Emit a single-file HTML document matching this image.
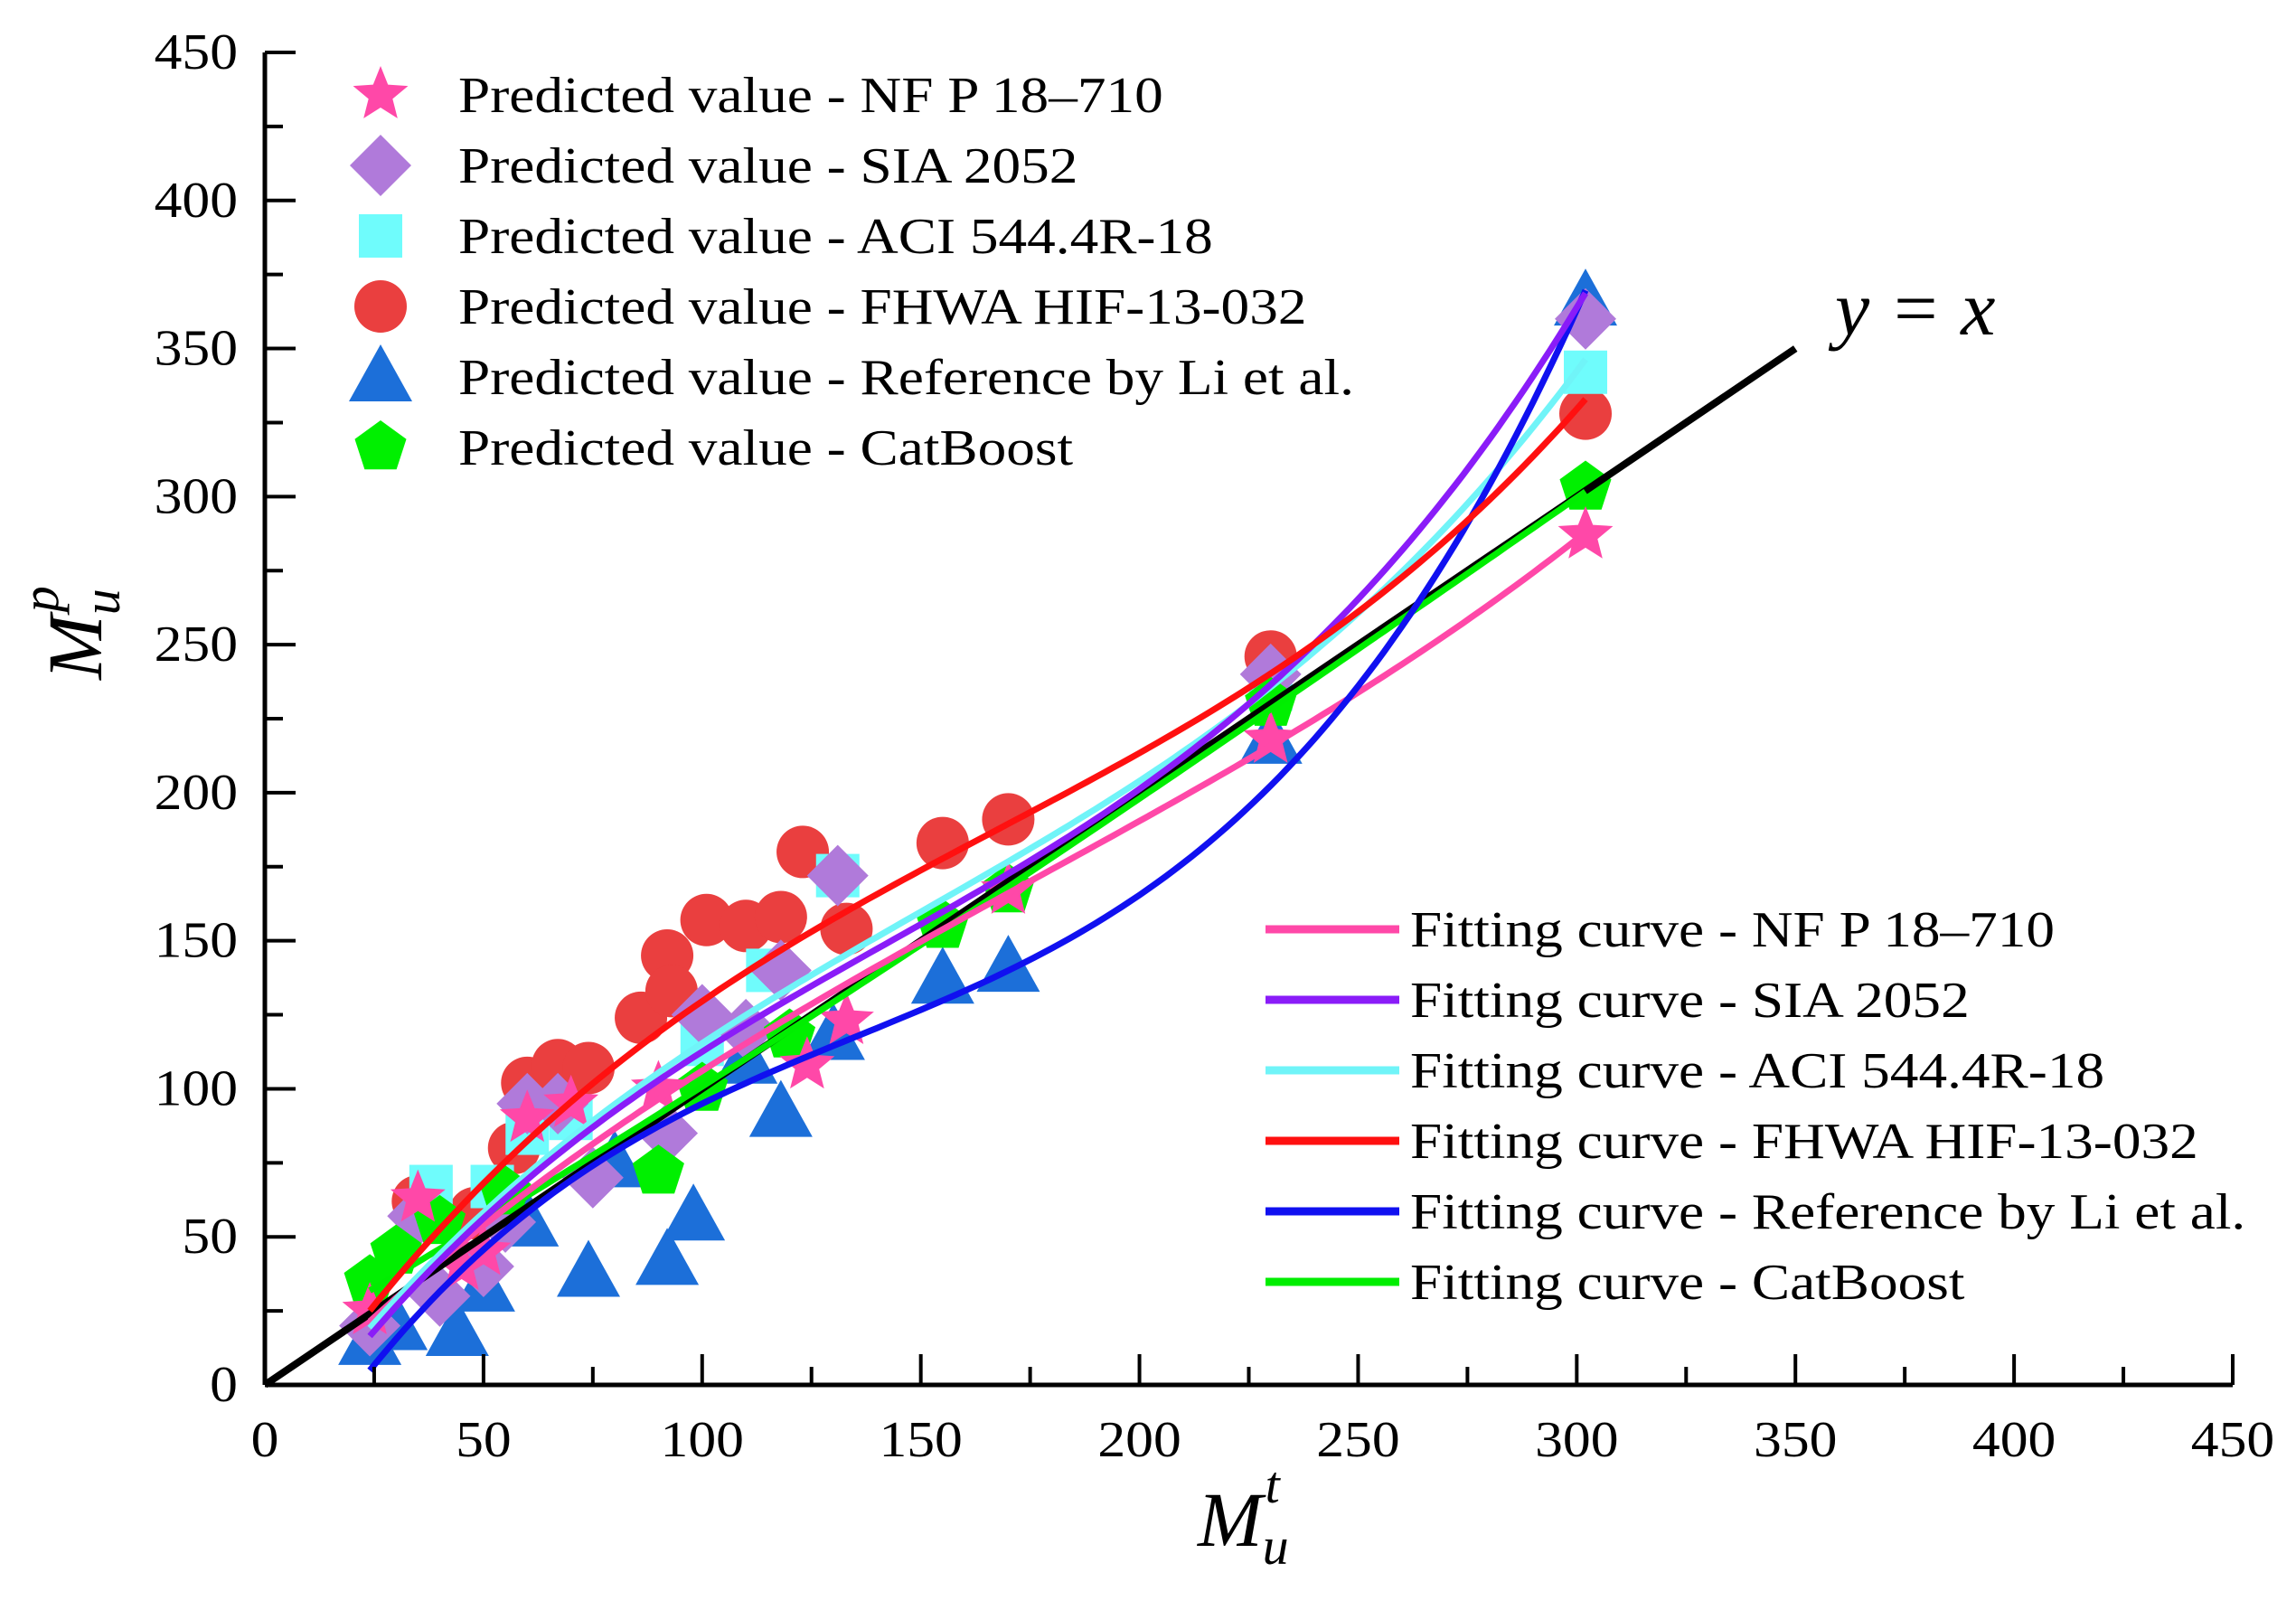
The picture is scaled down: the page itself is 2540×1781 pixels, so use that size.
<!DOCTYPE html>
<html><head><meta charset="utf-8"><style>
body{margin:0;background:#fff}
svg text{font-family:"Liberation Serif",serif}
</style></head><body>
<svg id="chart" width="2540" height="1776" viewBox="0 0 2540 1776" xmlns="http://www.w3.org/2000/svg">
<rect width="2540" height="1776" fill="#fff"/>
<g id="marks"></g><g id="axes"></g><g id="legend"></g>
<text id="idlab" x="2030" y="370" font-size="86" font-style="italic" font-family="Liberation Serif,serif">y = x</text>
<text x="1325" y="1710" font-size="86" font-style="italic" font-family="Liberation Serif,serif">M<tspan font-size="58" dy="20">u</tspan><tspan font-size="58" dx="-26" dy="-68">t</tspan></text>
<g transform="translate(112,700) rotate(-90)"><text x="0" y="0" font-size="86" font-style="italic" font-family="Liberation Serif,serif" text-anchor="middle">M<tspan font-size="58" dy="20">u</tspan><tspan font-size="58" dx="-26" dy="-68">p</tspan></text></g>
</svg>
<script>
const xTicks=[0,50,100,150,200,250,300,350,400,450];
const yTicks=[0,50,100,150,200,250,300,350,400,450];
const nfX=[24,35,45,50,60,70,90,124,133,170,230,302];
const nfY=[25,63,40,45,90,95,100,108,123,167,218,287];
const siaX=[24,35,40,50,55,60,67,75,92,100,110,118,131,230,302];
const siaY=[20,57,30,40,55,95,95,70,85,125,120,140,172,240,360];
const aciX=[38,52,60,70,100,115,131,230,302];
const aciY=[67,67,85,90,115,140,172,235,342];
const fhX=[35,48,57,60,67,74,86,92,93,101,110,118,123,133,155,170,230,302];
const fhY=[62,58,80,102,108,107,124,145,133,157,155,158,180,154,183,191,246,328];
const liX=[24,30,44,50,60,74,80,92,98,110,118,130,155,170,230,302];
const liY=[15,20,18,33,55,38,75,42,57,110,92,118,137,141,218,366];
const cbX=[24,30,40,55,90,100,120,155,170,230,302];
const cbY=[35,45,55,65,72,100,118,155,167,230,303];
const fitX=[25,50,75,100,150,200,230,260,300];
const fitNF=[22,55,82,105,150,190,215,245,285];
const fitSIA=[18,55,88,115,155,195,240,285,362];
const fitACI=[20,58,90,118,158,200,236,280,340];
const fitFH=[25,70,103,130,172,210,243,275,328];
const fitLi=[7,45,73,97,128,160,205,258,362];
const fitCB=[33,55,77,100,150,198,228,258,300];

const X0=293,X1=2470,Y0=1532,Y1=58;
const sx=v=>X0+(X1-X0)*v/450, sy=v=>Y0-(Y0-Y1)*v/450;
const NS='http://www.w3.org/2000/svg';
const marks=document.getElementById('marks'),axes=document.getElementById('axes'),leg=document.getElementById('legend');
function mk(tag,attrs,parent){const e=document.createElementNS(NS,tag);for(const k in attrs)e.setAttribute(k,attrs[k]);parent.appendChild(e);return e;}
function widen(t,f){const w=t.getComputedTextLength();t.setAttribute('textLength',w*f);t.setAttribute('lengthAdjust','spacingAndGlyphs');}
function shape(type,cx,cy,col,parent){
  let e;
  if(type==='circle'){e=mk('circle',{cx,cy,r:29,fill:col},parent);}
  else if(type==='square'){e=mk('rect',{x:cx-24,y:cy-24,width:48,height:48,fill:col},parent);}
  else{
    let pts=[];
    if(type==='star'){for(let i=0;i<10;i++){const r=i%2?14:32,a=-Math.PI/2+i*Math.PI/5;pts.push([cx+r*Math.cos(a),cy+r*Math.sin(a)]);}}
    if(type==='diamond'){pts=[[cx,cy-34],[cx+34,cy],[cx,cy+34],[cx-34,cy]];}
    if(type==='tri'){pts=[[cx,cy-36],[cx+35,cy+27],[cx-35,cy+27]];}
    if(type==='pent'){for(let i=0;i<5;i++){const a=-Math.PI/2+i*2*Math.PI/5;pts.push([cx+30*Math.cos(a),cy+30*Math.sin(a)]);}}
    e=mk('polygon',{points:pts.map(p=>p.join(',')).join(' '),fill:col},parent);
  }
  return e;
}
const series=[
 {t:'circle',c:'#ea3f3f',x:fhX,y:fhY,n:'fhwa'},
 {t:'tri',c:'#1c6fd9',x:liX,y:liY,n:'li'},
 {t:'square',c:'#6ffcfc',x:aciX,y:aciY,n:'aci'},
 {t:'diamond',c:'#b07ada',x:siaX,y:siaY,n:'sia'},
 {t:'pent',c:'#00f000',x:cbX,y:cbY,n:'catboost'},
 {t:'star',c:'#ff48a8',x:nfX,y:nfY,n:'nfp'}];
series.forEach(s=>{s.x.forEach((xv,i)=>{
  const e=shape(s.t,sx(xv),sy(s.y[i]),s.c,marks);
  
  
});});
const idl=mk('line',{x1:sx(0),y1:sy(0),x2:sx(350),y2:sy(350),stroke:'#000','stroke-width':8},marks);


function cubicFit(xs,ys){
  const n=4,A=[...Array(n)].map(()=>Array(n+1).fill(0));
  xs.forEach((xv,k)=>{const u=xv/100;for(let i=0;i<n;i++){for(let j=0;j<n;j++)A[i][j]+=Math.pow(u,i+j);A[i][n]+=ys[k]*Math.pow(u,i);}});
  for(let i=0;i<n;i++){for(let r=i+1;r<n;r++){const f=A[r][i]/A[i][i];for(let c=i;c<=n;c++)A[r][c]-=f*A[i][c];}}
  const c=Array(n).fill(0);
  for(let i=n-1;i>=0;i--){let s=A[i][n];for(let j=i+1;j<n;j++)s-=A[i][j]*c[j];c[i]=s/A[i][i];}
  return v=>{const u=v/100;return c[0]+c[1]*u+c[2]*u*u+c[3]*u*u*u;};
}
const fits=[[fitCB,'#00ee00','catboost'],[fitNF,'#ff48a8','nfp'],[fitACI,'#70f4f8','aci'],[fitLi,'#1010f0','li'],[fitSIA,'#8a1cf8','sia'],[fitFH,'#ff1010','fhwa']];
fits.forEach(f=>{
  const fn=cubicFit(fitX,f[0]);let d='';
  for(let v=24;v<=302;v+=2){d+=(d?'L':'M')+sx(v).toFixed(1)+','+sy(fn(v)).toFixed(1);}
  const e=mk('path',{d,fill:'none',stroke:f[1],'stroke-width':7},marks);
  
  
});
mk('line',{x1:X0,y1:Y0,x2:X1,y2:Y0,stroke:'#000','stroke-width':5},axes);
mk('line',{x1:X0,y1:Y0,x2:X0,y2:Y1,stroke:'#000','stroke-width':5},axes);
xTicks.forEach((v,i)=>{
  mk('line',{x1:sx(v),y1:Y0,x2:sx(v),y2:Y0-34,stroke:'#000','stroke-width':4},axes);
  if(i<xTicks.length-1)mk('line',{x1:sx(v+25),y1:Y0,x2:sx(v+25),y2:Y0-20,stroke:'#000','stroke-width':4},axes);
  const t=mk('text',{x:sx(v),y:Y0+79,'text-anchor':'middle','font-size':56},axes);t.textContent=v;
  
  
  widen(t,1.1);
});
yTicks.forEach((v,i)=>{
  mk('line',{x1:X0,y1:sy(v),x2:X0+34,y2:sy(v),stroke:'#000','stroke-width':4},axes);
  if(i<yTicks.length-1)mk('line',{x1:X0,y1:sy(v+25),x2:X0+20,y2:sy(v+25),stroke:'#000','stroke-width':4},axes);
  const t=mk('text',{x:X0-30,y:sy(v)+18,'text-anchor':'end','font-size':56},axes);t.textContent=v;
  
  
  widen(t,1.1);
});
const legTop=[['star','#ff48a8','Predicted value - NF P 18–710'],['diamond','#b07ada','Predicted value - SIA 2052'],['square','#6ffcfc','Predicted value - ACI 544.4R-18'],['circle','#ea3f3f','Predicted value - FHWA HIF-13-032'],['tri','#1c6fd9','Predicted value - Reference by Li et al.'],['pent','#00f000','Predicted value - CatBoost']];
legTop.forEach((l,i)=>{
  const cy=105+i*78;
  const m=shape(l[0],421,cy,l[1],leg);
  
  
  const t=mk('text',{x:507,y:cy+19,'font-size':56},leg);t.textContent=l[2];
  
  
  widen(t,1.13);
});
const legBot=[['#ff48a8','Fitting curve - NF P 18–710'],['#8a1cf8','Fitting curve - SIA 2052'],['#70f4f8','Fitting curve - ACI 544.4R-18'],['#ff1010','Fitting curve - FHWA HIF-13-032'],['#1010f0','Fitting curve - Reference by Li et al.'],['#00ee00','Fitting curve - CatBoost']];
legBot.forEach((l,i)=>{
  const cy=1028+i*78;
  mk('line',{x1:1400,y1:cy,x2:1548,y2:cy,stroke:l[0],'stroke-width':9},leg);
  const t=mk('text',{x:1560,y:cy+19,'font-size':56},leg);t.textContent=l[1];
  
  
  widen(t,1.13);
});
</script>
</body></html>
